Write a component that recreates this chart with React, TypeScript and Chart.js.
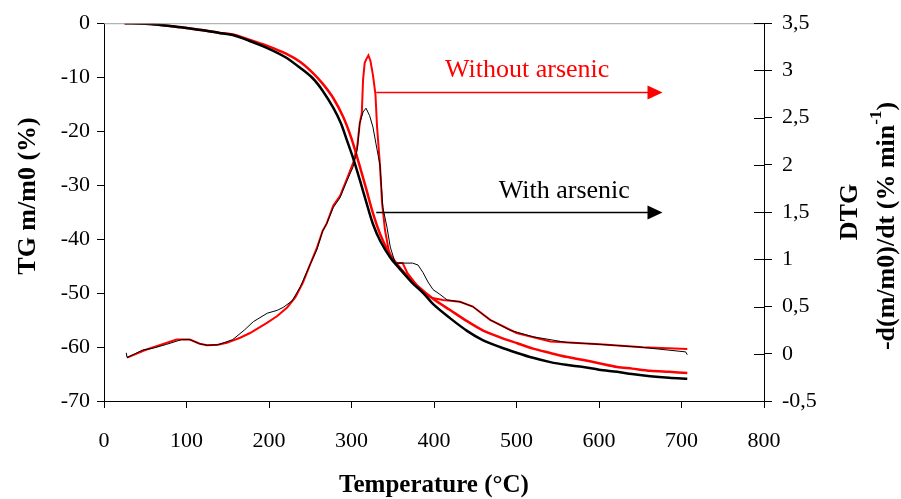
import React, { useEffect, useRef } from "react";
import { Chart, registerables } from "chart.js";

Chart.register(...registerables);

// ---- Data ----
const tgWithT = [25, 50, 80, 100, 120, 140, 156, 175, 198, 220, 238, 253, 265, 278, 287, 294.5, 302, 310, 318, 326, 335, 347, 359, 373, 387, 400, 419, 440, 459, 480, 501, 520, 541, 560, 581, 600, 622, 640, 662, 685, 707];
const tgWithV = [0, -0.1, -0.5, -0.9, -1.3, -1.8, -2.2, -3.2, -4.6, -6.3, -8.3, -10.2, -12.5, -15.7, -18.5, -21.7, -25.0, -29.0, -33.2, -37.2, -40.4, -43.4, -45.6, -48, -50.0, -52.2, -54.6, -57, -58.7, -60, -61.1, -62, -62.8, -63.3, -63.7, -64.2, -64.6, -65.0, -65.4, -65.7, -65.9];

const tgWithoutT = [25, 50, 80, 100, 120, 140, 156, 175, 198, 220, 238, 253, 265, 278, 290, 300, 310, 318, 326, 335, 345, 355, 365, 380, 400, 419, 440, 459, 480, 501, 520, 541, 560, 581, 600, 622, 640, 662, 685, 707];
const tgWithoutV = [0, -0.1, -0.5, -0.9, -1.3, -1.8, -2.1, -3.0, -4.2, -5.6, -7.2, -9.2, -11.2, -13.9, -17.4, -21.4, -26.5, -30.8, -35.2, -39.2, -42.4, -44.6, -46.4, -48.7, -51.2, -53.1, -55.2, -56.9, -58.2, -59.3, -60.3, -61.1, -61.8, -62.4, -63.0, -63.7, -64.0, -64.4, -64.6, -64.8];

const dtgWithT = [27, 28, 47, 60, 76, 94, 104, 116, 125, 138, 156, 170, 181, 198, 210, 217, 228, 238, 250, 258, 265, 270, 278, 286, 294, 302, 307, 310, 314, 317.6, 322, 326, 331, 334.5, 338, 343, 347, 353, 374, 380.6, 386.7, 392.7, 398.8, 407, 416, 431.5, 447, 468, 492, 520, 561, 601, 650, 705, 707];
const dtgWithV = [0.01, -0.04, 0.04, 0.06, 0.1, 0.15, 0.15, 0.106, 0.09, 0.095, 0.15, 0.25, 0.34, 0.43, 0.46, 0.49, 0.56, 0.71, 0.95, 1.10, 1.30, 1.38, 1.55, 1.65, 1.82, 1.98, 2.16, 2.44, 2.56, 2.60, 2.52, 2.40, 2.16, 2.0, 1.55, 1.34, 1.13, 0.96, 0.96, 0.94, 0.86, 0.76, 0.68, 0.63, 0.57, 0.55, 0.50, 0.36, 0.25, 0.18, 0.12, 0.10, 0.07, 0.02, -0.01];

const dtgWithoutT = [28, 50, 88, 104, 116, 125, 138, 149, 165, 177, 198, 210, 222, 232, 241, 250, 258, 265, 270, 278, 286, 294, 302, 307, 310, 312.5, 314, 316, 318, 320.5, 323, 326, 329, 331, 334.5, 337, 340.6, 345, 350, 355, 362, 368, 377, 387, 398, 411, 431.5, 447, 468, 500, 541, 601, 653, 707];
const dtgWithoutV = [-0.04, 0.04, 0.15, 0.15, 0.106, 0.09, 0.095, 0.116, 0.17, 0.22, 0.33, 0.40, 0.49, 0.60, 0.75, 0.95, 1.12, 1.30, 1.38, 1.57, 1.67, 1.84, 2.02, 2.20, 2.44, 2.55, 2.9, 3.08, 3.12, 3.16, 3.1, 2.95, 2.75, 2.4, 2.0, 1.6, 1.31, 1.1, 0.98, 0.96, 0.96, 0.85, 0.75, 0.64, 0.59, 0.57, 0.55, 0.50, 0.36, 0.22, 0.13, 0.10, 0.07, 0.05];

const xTickLabels = ["0", "100", "200", "300", "400", "500", "600", "700", "800"];
const tgTickLabels = ["-70", "-60", "-50", "-40", "-30", "-20", "-10", "0"];
const dtgTickLabels = ["-0,5", "0", "0,5", "1", "1,5", "2", "2,5", "3", "3,5"];

// annotation arrows (data units: temperature, DTG)
const arrowWithout = { from: 330, to: 677, y: 2.77, label: "Without arsenic", labelX: 513, labelY: 2.93 };
const arrowWith = { from: 330, to: 677, y: 1.5, label: "With arsenic", labelX: 558, labelY: 1.65 };

const FONT = "'Liberation Serif', 'Times New Roman', serif";

const toXY = (xs: number[], ys: number[]) => xs.map((x, i) => ({ x, y: ys[i] }));

const overlay = {
  id: "overlay",
  afterDraw(chart: any) {
    const ctx = chart.ctx;
    const ca = chart.chartArea;
    const xs = chart.scales.x;
    const y1 = chart.scales.y1;
    ctx.save();
    // top border
    ctx.strokeStyle = "#a0a0a0";
    ctx.lineWidth = 1;
    ctx.beginPath();
    ctx.moveTo(ca.left, ca.top + 0.5);
    ctx.lineTo(ca.right, ca.top + 0.5);
    ctx.stroke();
    // inner ticks on right axis
    ctx.strokeStyle = "#000";
    ctx.beginPath();
    y1.ticks.forEach((t: any) => {
      const py = Math.round(y1.getPixelForValue(t.value)) + 0.5;
      ctx.moveTo(ca.right - 10, py);
      ctx.lineTo(ca.right, py);
    });
    ctx.stroke();

    // arrows
    const drawArrow = (a: any, color: string) => {
      const x0 = xs.getPixelForValue(a.from);
      const x1 = xs.getPixelForValue(a.to);
      const py = Math.round(y1.getPixelForValue(a.y)) + 0.5;
      ctx.strokeStyle = color;
      ctx.fillStyle = color;
      ctx.lineWidth = 1.5;
      ctx.beginPath();
      ctx.moveTo(x0, py);
      ctx.lineTo(x1 - 12, py);
      ctx.stroke();
      ctx.beginPath();
      ctx.moveTo(x1, py);
      ctx.lineTo(x1 - 15, py - 7);
      ctx.lineTo(x1 - 15, py + 7);
      ctx.closePath();
      ctx.fill();
      ctx.font = `26px ${FONT}`;
      ctx.textAlign = "center";
      ctx.textBaseline = "alphabetic";
      ctx.fillText(a.label, xs.getPixelForValue(a.labelX), y1.getPixelForValue(a.labelY));
    };
    drawArrow(arrowWithout, "#ff0000");
    drawArrow(arrowWith, "#000000");

    // axis titles
    ctx.fillStyle = "#000";
    ctx.textAlign = "center";
    ctx.textBaseline = "middle";
    ctx.font = `bold 25px ${FONT}`;
    ctx.fillText("Temperature (\u00B0C)", (ca.left + ca.right) / 2, 486);

    ctx.save();
    ctx.translate(28, 196);
    ctx.rotate(-Math.PI / 2);
    ctx.font = `bold 26px ${FONT}`;
    ctx.fillText("TG m/m0 (%)", 0, 0);
    ctx.restore();

    ctx.save();
    ctx.translate(850, 212);
    ctx.rotate(-Math.PI / 2);
    ctx.font = `bold 26px ${FONT}`;
    ctx.fillText("DTG", 0, 0);
    ctx.restore();

    ctx.save();
    ctx.translate(887, 226);
    ctx.rotate(-Math.PI / 2);
    const big = `bold 26px ${FONT}`;
    const small = `bold 17px ${FONT}`;
    const p1 = "-d(m/m0)/dt (% min";
    const p2 = "-1";
    const p3 = ")";
    ctx.font = big;
    const w1 = ctx.measureText(p1).width;
    const w3 = ctx.measureText(p3).width;
    ctx.font = small;
    const w2 = ctx.measureText(p2).width;
    const total = w1 + w2 + w3;
    let cx = -total / 2;
    ctx.textAlign = "left";
    ctx.font = big;
    ctx.fillText(p1, cx, 0);
    cx += w1;
    ctx.font = small;
    ctx.fillText(p2, cx, -10);
    cx += w2;
    ctx.font = big;
    ctx.fillText(p3, cx, 0);
    ctx.restore();

    ctx.restore();
  },
};

export default function App() {
  const ref = useRef<HTMLCanvasElement | null>(null);
  useEffect(() => {
    if (!ref.current) return;
    const chart = new Chart(ref.current, {
      type: "line",
      data: {
        datasets: [
          { label: "DTG with arsenic", data: toXY(dtgWithT, dtgWithV), yAxisID: "y1", borderColor: "#000", borderWidth: 1, pointRadius: 0, tension: 0, fill: false },
          { label: "TG with arsenic", data: toXY(tgWithT, tgWithV), yAxisID: "y", borderColor: "#000", borderWidth: 2.5, pointRadius: 0, tension: 0.3, fill: false },
          { label: "DTG without arsenic", data: toXY(dtgWithoutT, dtgWithoutV), yAxisID: "y1", borderColor: "#ff0000", borderWidth: 2, pointRadius: 0, tension: 0, fill: false },
          { label: "TG without arsenic", data: toXY(tgWithoutT, tgWithoutV), yAxisID: "y", borderColor: "#ff0000", borderWidth: 2.5, pointRadius: 0, tension: 0.3, fill: false },
        ],
      },
      options: {
        responsive: false,
        animation: false,
        events: [],
        layout: { padding: { top: 23, left: 0, right: 0, bottom: 0 } },
        plugins: { legend: { display: false }, tooltip: { enabled: false } },
        scales: {
          x: {
            type: "linear",
            min: 0,
            max: 800,
            afterFit: (s: any) => { s.height = 98; },
            afterBuildTicks: (s: any) => { s.ticks = xTickLabels.map((_, i) => ({ value: i * 100 })); },
            ticks: {
              autoSkip: false,
              maxRotation: 0,
              padding: 20,
              color: "#000",
              font: { family: FONT, size: 22 },
              callback: (_v: any, i: number) => xTickLabels[i],
            },
            grid: { drawOnChartArea: false, tickLength: 7, color: "#000", tickColor: "#000" },
            border: { display: true, color: "#000", width: 1 },
          },
          y: {
            type: "linear",
            position: "left",
            min: -70,
            max: 0,
            afterFit: (s: any) => { s.width = 104; },
            afterBuildTicks: (s: any) => { s.ticks = tgTickLabels.map((_, i) => ({ value: -70 + i * 10 })); },
            ticks: {
              autoSkip: false,
              padding: 7,
              color: "#000",
              font: { family: FONT, size: 22 },
              callback: (_v: any, i: number) => tgTickLabels[i],
            },
            grid: { drawOnChartArea: false, tickLength: 7, color: "#000", tickColor: "#000" },
            border: { display: true, color: "#000", width: 1 },
          },
          y1: {
            type: "linear",
            position: "right",
            min: -0.5,
            max: 3.5,
            afterFit: (s: any) => { s.width = 137; },
            afterBuildTicks: (s: any) => { s.ticks = dtgTickLabels.map((_, i) => ({ value: -0.5 + i * 0.5 })); },
            ticks: {
              autoSkip: false,
              padding: 10,
              color: "#000",
              font: { family: FONT, size: 22 },
              callback: (_v: any, i: number) => dtgTickLabels[i],
            },
            grid: { drawOnChartArea: false, tickLength: 8, color: "#000", tickColor: "#000" },
            border: { display: true, color: "#000", width: 1 },
          },
        },
      },
      plugins: [overlay],
    });
    return () => chart.destroy();
  }, []);
  return (
    <div style={{ position: "absolute", left: 0, top: 0, width: 901, height: 499, background: "#fff" }}>
      <canvas ref={ref} width={901} height={499} style={{ display: "block" }} />
    </div>
  );
}
